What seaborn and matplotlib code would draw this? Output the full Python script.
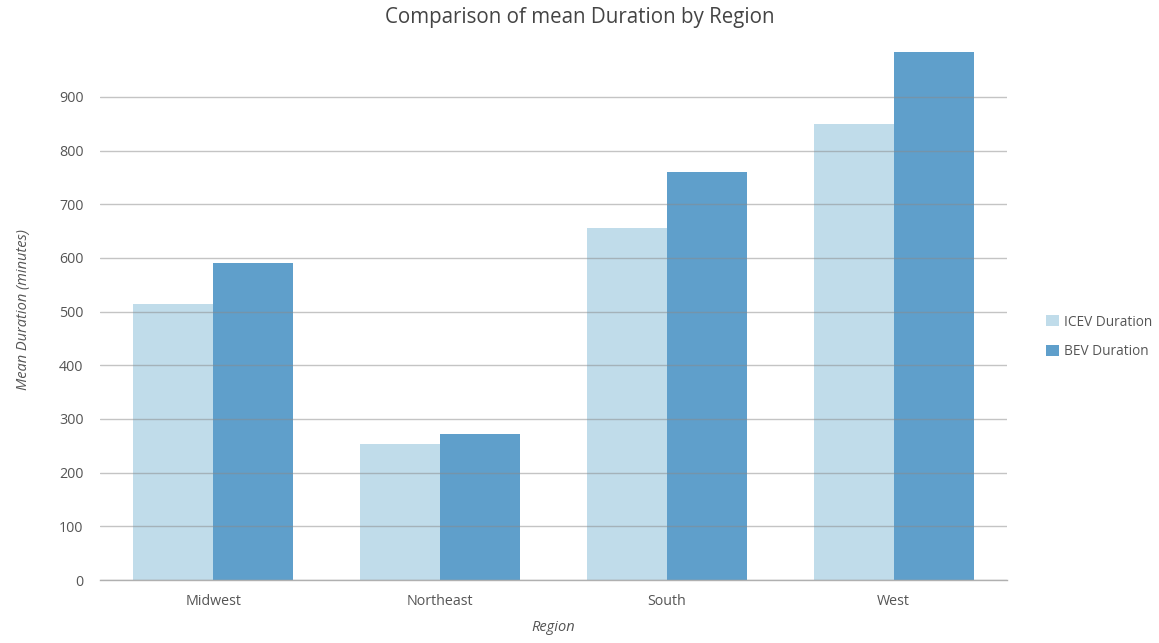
import matplotlib
matplotlib.use("Agg")
import matplotlib.pyplot as plt
import seaborn as sns
import pandas as pd

regions = ["Midwest", "Northeast", "South", "West"]
icev_duration = [514, 253, 656, 850]
bev_duration = [591, 272, 760, 983]
series_names = ["ICEV Duration", "BEV Duration"]
y_ticks = [0, 100, 200, 300, 400, 500, 600, 700, 800, 900]

df = pd.DataFrame({
    "Region": regions * 2,
    "Duration": icev_duration + bev_duration,
    "Series": [series_names[0]] * len(regions) + [series_names[1]] * len(regions),
})

sns.set_theme(style="white")
plt.rcParams["font.family"] = ["Open Sans", "DejaVu Sans"]

fig = plt.figure(figsize=(11.59, 6.43), dpi=100)
ax = fig.add_axes([100 / 1159, 63 / 643, 907 / 1159, (580 - 40) / 643])

palette = {series_names[0]: "#c0dcea", series_names[1]: "#5f9fcb"}
sns.barplot(data=df, x="Region", y="Duration", hue="Series", palette=palette,
            width=0.705, gap=0, saturation=1, linewidth=0, ax=ax, legend=True)

ax.set_xlim(-0.5, 3.5)
ax.set_ylim(0, 1006)
ax.set_yticks(y_ticks)
ax.yaxis.grid(True, color="#8a8a8a", alpha=0.5, linewidth=1)
ax.set_axisbelow(False)
for s in ["top", "right", "left"]:
    ax.spines[s].set_visible(False)
ax.spines["bottom"].set_color("#b0b0b0")
ax.spines["bottom"].set_linewidth(1)
ax.tick_params(axis="both", length=0, labelsize=10.3, labelcolor="#555555")
ax.tick_params(axis="y", pad=12)
ax.tick_params(axis="x", pad=10)

ax.set_xlabel("Region", fontsize=10.5, style="italic", color="#555555", labelpad=8)
ax.set_ylabel("Mean Duration (minutes)", fontsize=10.5, style="italic", color="#555555", labelpad=20)
fig.text(580 / 1159, 1 - 18 / 643, "Comparison of mean Duration by Region",
         ha="center", va="center", fontsize=14.8, color="#444444")

handles, labels = ax.get_legend_handles_labels()
leg = ax.legend(handles, labels, loc="center left", bbox_to_anchor=(1.03, 0.45),
                frameon=False, fontsize=9.8, handlelength=0.9, handleheight=0.9,
                handletextpad=0.4, labelspacing=1.1)
for t in leg.get_texts():
    t.set_color("#555555")

fig.savefig("out.png", dpi=100)
